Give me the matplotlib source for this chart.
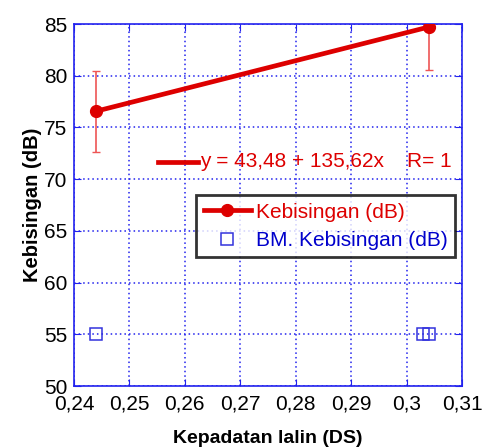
import numpy as np
import matplotlib.pyplot as plt

plt.rcParams['font.family'] = ['Liberation Sans', 'DejaVu Sans']

# measured noise vs traffic density
ds = [0.244, 0.304]
noise = [76.57, 84.71]
noise_err = [3.9, 4.2]

# noise standard (baku mutu)
ds_bm = [0.244, 0.303, 0.304]
bm = [55, 55, 55]

# linear fit coefficients
a, b, r = 43.48, 135.62, 1

fig = plt.figure(figsize=(4.9, 4.48), dpi=100)
ax = fig.add_axes([74/490, 1 - 386/448, 388/490, 362/448])

red = '#dd0000'
blue = '#0000cc'

ax.errorbar(ds, noise, yerr=noise_err, fmt='none', ecolor='#ee5555',
            elinewidth=1.2, capsize=3, zorder=3)
ax.plot(ds, noise, '-o', color=red, lw=3.4, ms=8.5, zorder=4,
        label='Kebisingan (dB)')
ax.plot(ds_bm, bm, 's', mfc='none', mec='#3333dd', ms=8.5, mew=1.1,
        ls='none', zorder=4, label='BM. Kebisingan (dB)')

ax.set_xlim(0.24, 0.31)
ax.set_ylim(50, 85)
xt = np.arange(0.24, 0.3101, 0.01)
ax.set_xticks(xt)
ax.set_xticklabels([('%g' % round(v, 2)).replace('.', ',') for v in xt])
ax.set_yticks(np.arange(50, 86, 5))

ax.grid(True, color='#2222ee', ls=(0, (1, 2)), lw=1.1)
for s in ax.spines.values():
    s.set_color('#2222ee')
    s.set_linewidth(1.2)
ax.tick_params(direction='in', colors='#2222ee', labelcolor='black',
               labelsize=15, length=5, top=True, right=True, pad=5)
ax.tick_params(axis='x', pad=6)

ax.set_xlabel('Kepadatan lalin (DS)', fontsize=14, fontweight='bold', labelpad=12)
ax.set_ylabel('Kebisingan (dB)', fontsize=14.5, fontweight='bold', labelpad=1)

# fit equation
ax.plot([0.2552, 0.2624], [71.7, 71.7], color=red, lw=3.4, clip_on=False)
ax.text(0.2627, 71.7, 'y = %s + %sx    R= %d' % (str(a).replace('.', ','),
        str(b).replace('.', ','), r), color=red, fontsize=15, va='center')

leg = ax.legend(loc='upper left', bbox_to_anchor=(0.315, 0.527), fontsize=15,
                frameon=True, fancybox=False, handlelength=2.3,
                handletextpad=0.2, borderpad=0.35, labelspacing=0.45,
                borderaxespad=0)
leg.get_frame().set_edgecolor('black')
leg.get_frame().set_linewidth(2)
for t, c in zip(leg.get_texts(), [red, blue]):
    t.set_color(c)

fig.savefig('out.png', dpi=100)
